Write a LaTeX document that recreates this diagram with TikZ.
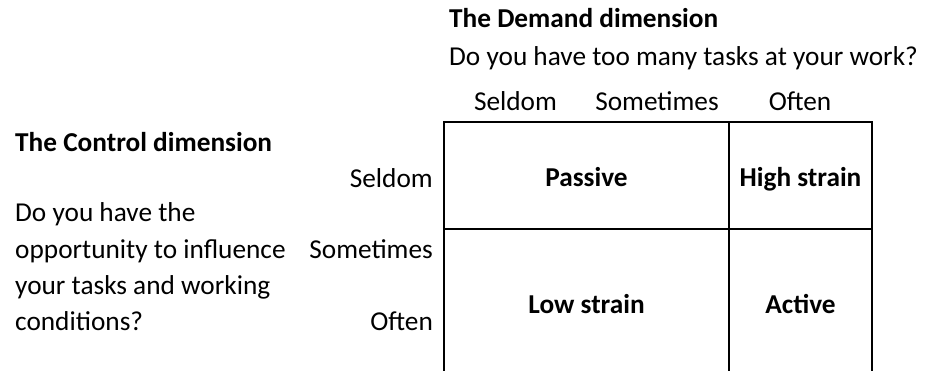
\documentclass[tikz,border=0pt]{standalone}
\usepackage{fontspec}
\setmainfont{Carlito}
\tikzset{
  lbl/.style={inner sep=0pt, font=\fontsize{27.3}{32}\selectfont},
  hdr/.style={lbl, font=\fontsize{27.3}{32}\selectfont\bfseries},
  cell/.style={hdr, anchor=base},
  gridline/.style={draw=black, line width=1.7pt}
}
\begin{document}
\begin{tikzpicture}[x=1pt,y=-1pt]
        \useasboundingbox (0,0) rectangle (933,371);
        % grid corners
        \coordinate (tl) at (444,122);
        \coordinate (tm) at (729,122);
        \coordinate (tr) at (872,122);
        \coordinate (ml) at (444,229);
        \coordinate (mr) at (872,229);
        \coordinate (bl) at (444,371);
        \coordinate (bm) at (729,371);
        \coordinate (br) at (872,371);
        \draw[gridline] (bl)--(tl)--(tr)--(br);
        \draw[gridline] (tm)--(bm);
        \draw[gridline] (ml)--(mr);

        % demand dimension (top)
        \node[hdr, anchor=base west] (demand) at (449,27.5) {The Demand dimension};
        \node[lbl, anchor=base west] (demandq) at (449,66) {Do you have too many tasks at your work?};
        \node[lbl, anchor=base] (dseldom) at (515.5,111) {Seldom};
        \node[lbl, anchor=base] (dsometimes) at (657,111) {Sometimes};
        \node[lbl, anchor=base] (doften) at (800,111) {Often};

        % control dimension (left)
        \node[hdr, anchor=base west] (control) at (15,152) {The Control dimension};
        \node[lbl, anchor=base west] (cq1) at (15,222) {Do you have the};
        \node[lbl, anchor=base west] (cq2) at (15,258) {opportunity to influence};
        \node[lbl, anchor=base west] (cq3) at (15,294) {your tasks and working};
        \node[lbl, anchor=base west] (cq4) at (15,330) {conditions?};
        \node[lbl, anchor=base east] (cseldom) at (433,188) {Seldom};
        \node[lbl, anchor=base east] (csometimes) at (433,258) {Sometimes};
        \node[lbl, anchor=base east] (coften) at (433,330) {Often};

        % cells
        \node[cell] (passive) at (586.5,186.5) {Passive};
        \node[cell] (highstrain) at (800.5,186.5) {High strain};
        \node[cell] (lowstrain) at (586.5,313.5) {Low strain};
        \node[cell] (active) at (800.5,313.5) {Active};
\end{tikzpicture}
\end{document}
